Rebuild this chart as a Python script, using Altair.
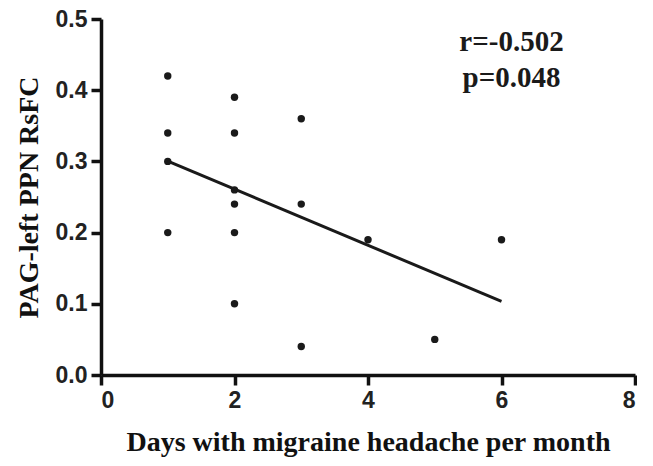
import altair as alt
import pandas as pd

days = [1, 1, 1, 1, 2, 2, 2, 2, 2, 2, 3, 3, 3, 4, 5, 6]
rsfc = [0.42, 0.34, 0.30, 0.20, 0.39, 0.34, 0.26, 0.24, 0.20, 0.10, 0.36, 0.24, 0.04, 0.19, 0.05, 0.19]

ann_text = ["r=-0.502", "p=0.048"]
ann_x = [6.15, 6.15]
ann_y = [0.455, 0.405]

df = pd.DataFrame({"days": days, "rsfc": rsfc})
ann = pd.DataFrame({"days": ann_x, "rsfc": ann_y, "t": ann_text})

xs = alt.Scale(domain=[0, 8], nice=False, zero=False)
ys = alt.Scale(domain=[0, 0.5], nice=False, zero=False)

common = dict(
    grid=False,
    domainColor="#111111", domainWidth=3.5,
    tickColor="#111111", tickWidth=3.5, tickSize=10,
    labelFont="Liberation Sans", labelFontWeight="bold", labelFontSize=23,
    labelColor="#222222", labelPadding=4,
    titleFont="Liberation Serif", titleFontWeight="bold", titleFontSize=28,
    titleColor="#111111",
)
xaxis = alt.Axis(values=[0, 2, 4, 6, 8], title="Days with migraine headache per month",
                 format="d", titlePadding=16, **common)
yaxis = alt.Axis(values=[0, 0.1, 0.2, 0.3, 0.4, 0.5], title="PAG-left PPN RsFC",
                 format=".1f", titlePadding=12, **common)
enc = dict(x=alt.X("days:Q", scale=xs, axis=xaxis), y=alt.Y("rsfc:Q", scale=ys, axis=yaxis))

pts = alt.Chart(df).mark_circle(size=55, color="#1a1a1a", opacity=1).encode(**enc)
line = alt.Chart(df).transform_regression("days", "rsfc").mark_line(
    color="#1a1a1a", strokeWidth=3).encode(**enc)
txt = alt.Chart(ann).mark_text(
    font="Liberation Serif", fontWeight="bold", fontSize=29, color="#1a1a1a",
    align="center", baseline="alphabetic").encode(text="t:N", **enc)

chart = alt.layer(pts, line, txt).properties(
    width=534, height=356,
    padding={"left": 7, "top": 0, "right": 0, "bottom": 2},
).configure_view(stroke=None)

chart.save("out.html", embed_options={"renderer": "svg", "actions": False})
